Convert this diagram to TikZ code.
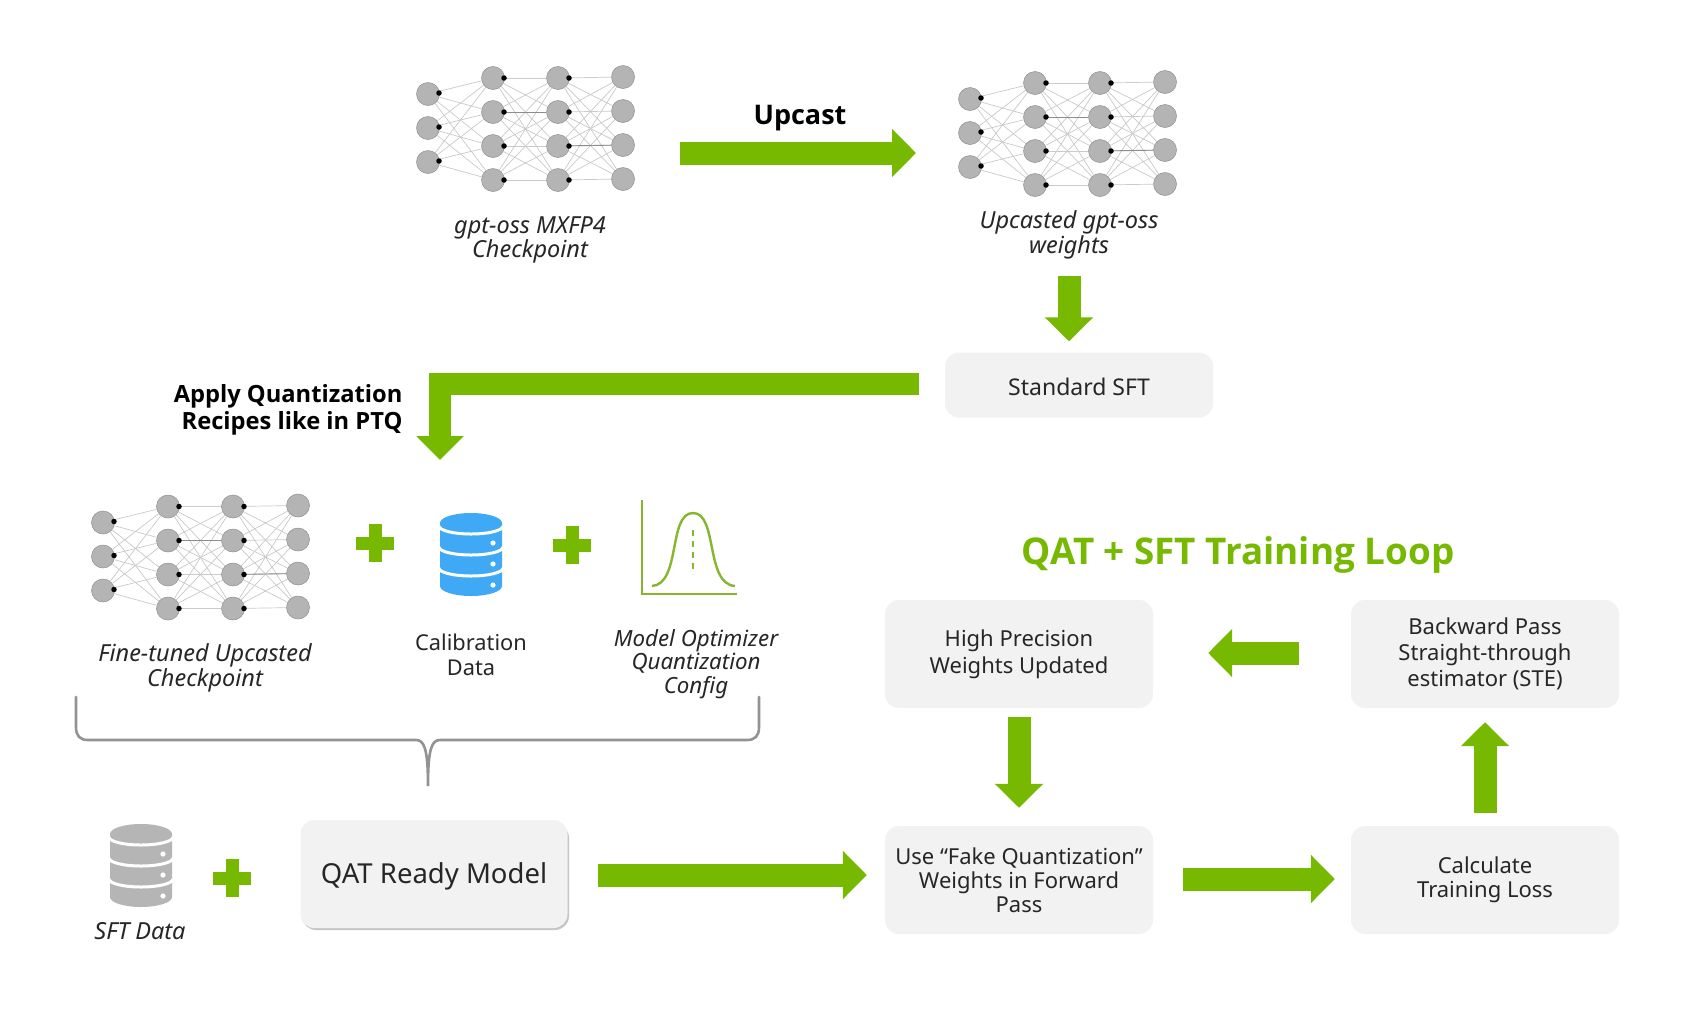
\documentclass[tikz,border=0pt]{standalone}
\usepackage{fontspec}
\setmainfont{Noto Sans}
\newfontfamily\hdfont{Open Sans}
\usetikzlibrary{arrows.meta,calc}
\definecolor{nvgreen}{HTML}{76B900}
\definecolor{boxgray}{HTML}{F2F2F2}
\definecolor{dbblue}{HTML}{3FA9F5}
\definecolor{dbgray}{HTML}{B5B5B5}
\definecolor{circfill}{HTML}{B4B4B4}
\definecolor{circline}{HTML}{8E8E8E}
\definecolor{edgegray}{HTML}{CACACA}
\definecolor{chartgreen}{HTML}{86B52E}
\tikzset{
  neuron/.style={circle,minimum size=23pt,inner sep=0pt,fill=circfill,draw=circline,line width=.5pt},
  pin/.style={circle,minimum size=5.5pt,inner sep=0pt,fill=black},
  edgeline/.style={draw=edgegray,line width=.7pt},
  darkedge/.style={draw=gray!90,line width=.9pt},
  bigarrow/.style={draw=nvgreen,line width=23pt,-{Triangle[length=24pt,width=47pt]}},
  flowbox/.style={fill=boxgray,rounded corners=14pt,minimum width=268pt,minimum height=108pt,align=center,font=\fontsize{22}{26}\selectfont,text=black!85,execute at begin node={\rule{0pt}{22pt}}},
  plainlabel/.style={align=center,font=\fontsize{21.8}{24.5}\selectfont,text=black!85},
  itlabel/.style={plainlabel,font=\fontsize{23.5}{24.5}\selectfont\itshape},
  plusbar/.style={fill=nvgreen},
}
\newcommand{\netw}[3]{%
  \begin{scope}[shift={(#2,#3)}]
    \foreach \i/\y in {1/0,2/34,3/68} \node[neuron] (#1-a-\i) at (0,\y) {};
    \foreach \i/\y in {1/-16,2/18,3/52,4/86} {
      \node[neuron] (#1-b-\i) at (65,\y) {};
      \node[neuron] (#1-c-\i) at (130,\y) {};
      \node[neuron] (#1-d-\i) at (195,\y-1) {};
    }
    \foreach \i in {1,2,3} \foreach \j in {1,2,3,4} \draw[edgeline] (#1-a-\i) -- (#1-b-\j);
    \foreach \i in {1,2,3,4} \foreach \j in {1,2,3,4} {
      \draw[edgeline] (#1-b-\i) -- (#1-c-\j);
      \draw[edgeline] (#1-c-\i) -- (#1-d-\j);
    }
    \draw[darkedge] (#1-b-2) -- (#1-c-2);
    \draw[darkedge] (#1-c-3) -- (#1-d-3);
    \foreach \i in {1,2,3} \node[pin] at ($(#1-a-\i)+(11,-1)$) {};
    \foreach \i in {1,2,3,4} {
      \node[pin] at ($(#1-b-\i)+(11,0)$) {};
      \node[pin] at ($(#1-c-\i)+(11,0)$) {};
    }
  \end{scope}}
\newcommand{\dbicon}[3]{%
  \fill[#3] (#1-31,#2+10) arc[start angle=180,end angle=0,x radius=31pt,y radius=10pt]
    -- (#1+31,#2+73) arc[start angle=0,end angle=-180,x radius=31pt,y radius=10pt] -- cycle;
  \foreach \yy in {13,34,55}
    \draw[white,line width=3pt] (#1-32,#2+\yy) arc[start angle=180,end angle=360,x radius=32pt,y radius=8pt];
  \foreach \yy in {30,51,72}
    \fill[white] (#1+22,#2+\yy) circle[radius=2.6pt];}
\newcommand{\plusicon}[2]{%
  \fill[plusbar] (#1-19,#2-6.5) rectangle (#1+19,#2+6.5);
  \fill[plusbar] (#1-6.5,#2-19) rectangle (#1+6.5,#2+19);}
\begin{document}
\begin{tikzpicture}[x=1pt,y=-1pt]
\useasboundingbox (0,0) rectangle (1686,1010);
\fill[white] (0,0) rectangle (1686,1010);

% networks
\netw{na}{428}{94}
\netw{nb}{970}{99}
\netw{nc}{103}{522.5}

% labels under networks
\node[itlabel] (la) at (530,240) {gpt-oss MXFP4\\Checkpoint};
\node[itlabel] (lb) at (1069,235) {Upcasted gpt-oss\\weights};
\node[itlabel] (lc) at (205,668) {Fine-tuned Upcasted\\Checkpoint};
\node[plainlabel] (ld) at (471,655) {Calibration\\Data};
\node[itlabel,font=\fontsize{22.3}{23.6}\selectfont\itshape] (le) at (696,664) {Model Optimizer\\Quantization\\Config};
\node[itlabel] (lf) at (140,931) {SFT Data};

% boxes
\node[flowbox,minimum height=65pt,font=\fontsize{23}{26}\selectfont,execute at begin node={\rule{0pt}{19pt}}] (sft) at (1079,385) {Standard SFT};
\fill[gray!45,rounded corners=14pt] (302,824) rectangle (569,930);
\node[flowbox,minimum width=267pt,font=\fontsize{27.5}{32}\selectfont,execute at begin node={\rule{0pt}{26pt}}] (qat) at (434,874) {QAT Ready Model};
\node[flowbox,font=\fontsize{22}{26.8}\selectfont] (high) at (1019,654) {High Precision\\Weights Updated};
\node[flowbox] (back) at (1485,654) {Backward Pass\\Straight-through\\estimator (STE)};
\node[flowbox,font=\fontsize{22}{24.2}\selectfont,execute at begin node={\rule{0pt}{20pt}}] (fake) at (1019,880) {Use “Fake Quantization”\\Weights in Forward\\Pass};
\node[flowbox,font=\fontsize{22}{24.2}\selectfont,execute at begin node={\rule{0pt}{26pt}}] (calc) at (1485,880) {Calculate\\Training Loss};

% headings
\node[font=\hdfont\fontsize{27}{30}\selectfont\bfseries,text=black] (up) at (800,118) {Upcast};
\node[font=\hdfont\fontsize{23.7}{27}\selectfont\bfseries,align=right,text=black,anchor=east] (apply) at (406,410) {Apply Quantization\\Recipes like in PTQ};
\node[font=\hdfont\fontsize{36.8}{40}\selectfont\bfseries,text=nvgreen] (loop) at (1238,555) {QAT + SFT Training Loop};

% arrows
\coordinate (ua) at (680,153);
\coordinate (ub) at (916,153);
\draw[bigarrow] (ua) -- (ub);
\draw[bigarrow,shorten <=13pt,shorten >=11pt] (lb.south) -- (lb.south |- sft.north);
\coordinate (corner) at (440,384);
\coordinate (ltip) at (440,460);
\draw[draw=nvgreen,line width=22pt,-{Triangle[length=24pt,width=46pt]},line join=miter]
  ([xshift=-26pt]sft.west |- corner) -- (corner) -- (ltip);
\draw[bigarrow,shorten <=30pt,shorten >=18pt] (qat.east |- 0,875) -- (fake.west |- 0,875);
\draw[bigarrow,shorten <=30pt,shorten >=16pt] (fake.east |- 0,879) -- (calc.west |- 0,879);
\draw[bigarrow,shorten <=9pt,shorten >=18pt] (high.south) -- (fake.north);
\draw[bigarrow,shorten <=13pt,shorten >=14pt] (calc.north) -- (back.south);
\draw[bigarrow,shorten <=52pt,shorten >=55pt] (back.west |- 0,653) -- (high.east |- 0,653);

% plus icons
\plusicon{375}{543}
\plusicon{572}{545}
\plusicon{232}{878}

% databases
\dbicon{471}{513}{dbblue}
\dbicon{141}{824}{dbgray}

% chart
\draw[chartgreen,line width=2.4pt] (642,500) -- (642,594) -- (737,594);
\draw[chartgreen,line width=2.4pt] (652,586) .. controls (681,584) and (668,513) .. (693,513) .. controls (718,513) and (705,584) .. (735,586);
\draw[chartgreen,line width=2.4pt,dash pattern=on 6pt off 5pt] (693,530) -- (693,574);

% brace
\coordinate (bl) at (76,697);
\coordinate (br) at (759,697);
\coordinate (bm) at (428,786);
\draw[draw=gray!85,line width=2.6pt,line cap=round]
  (bl) -- (76,727) .. controls (76,736) and (80,740) .. (88,740) -- (416,740)
  .. controls (424,740) and (428,748) .. (bm)
  .. controls (428,748) and (432,740) .. (440,740) -- (747,740)
  .. controls (755,740) and (759,736) .. (759,727) -- (br);
\end{tikzpicture}
\end{document}
